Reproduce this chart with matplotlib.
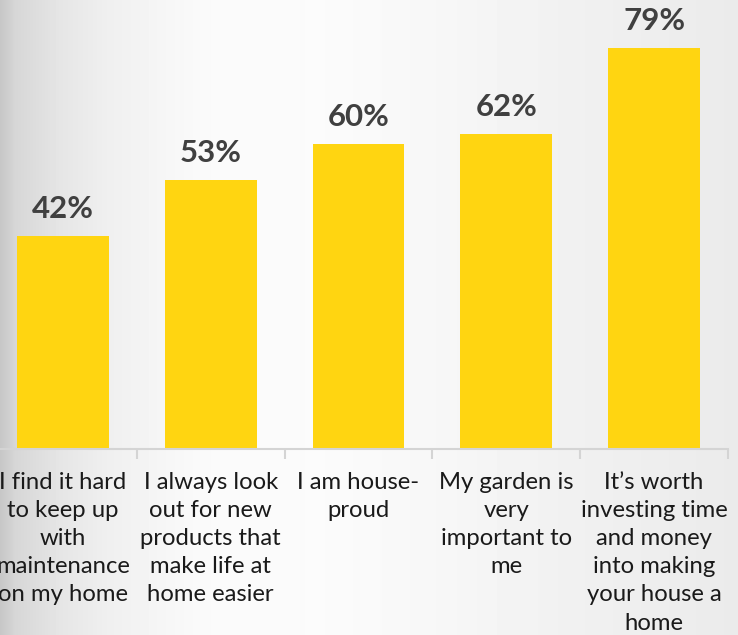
import numpy as np
import matplotlib
matplotlib.use('Agg')
import matplotlib.pyplot as plt

# survey answers and share of respondents agreeing
categories = [
    'I find it hard\nto keep up\nwith\nmaintenance\non my home',
    'I always look\nout for new\nproducts that\nmake life at\nhome easier',
    'I am house-\nproud',
    'My garden is\nvery\nimportant to\nme',
    'It\u2019s worth\ninvesting time\nand money\ninto making\nyour house a\nhome',
]
values = [42, 53, 60, 62, 79]

BAR_COLOR = '#FFD511'
LABEL_COLOR = '#404040'

W, H = 738, 635
fig = plt.figure(figsize=(W / 100, H / 100), dpi=100)

# soft grey-to-white backdrop across the whole figure
bg = fig.add_axes([0, 0, 1, 1], zorder=-1)
xs = np.array([0, 15, 60, 110, 200, 320, 430, 560, 738]) / W
gs = np.array([0.78, 0.84, 0.90, 0.94, 0.98, 0.985, 0.97, 0.945, 0.92])
grad = np.interp(np.linspace(0, 1, W), xs, gs)
bg.imshow(np.tile(grad, (10, 1)), cmap='gray', vmin=0, vmax=1,
          aspect='auto', extent=[0, 1, 0, 1])
bg.axis('off')

ax = fig.add_axes([-11 / W, (H - 449) / H, 739 / W, 449 / H])
ax.patch.set_alpha(0)

x = np.arange(len(values))
ax.bar(x, values, width=0.62, color=BAR_COLOR)
for xi, v in zip(x, values):
    ax.text(xi, v + 3.55, f'{v}%', ha='center', va='baseline',
            fontsize=22.5, fontweight='bold', color=LABEL_COLOR, family='Lato')

ax.set_xlim(-0.5, len(values) - 0.5)
ax.set_ylim(0, 88.4)

for side in ['top', 'right', 'left']:
    ax.spines[side].set_visible(False)
ax.spines['bottom'].set_color('#d4d4d4')
ax.spines['bottom'].set_linewidth(1.5)
ax.set_yticks([])

ax.set_xticks(x)
ax.set_xticklabels(categories, fontsize=17.2, family='Lato', color='#1a1a1a',
                   linespacing=1.42)
ax.tick_params(axis='x', which='major', length=0, pad=16.5)
ax.set_xticks(np.arange(len(values) + 1) - 0.5, minor=True)
ax.tick_params(axis='x', which='minor', length=7, width=1.5, color='#d4d4d4')

plt.savefig('out.png', dpi=100)
plt.close()
